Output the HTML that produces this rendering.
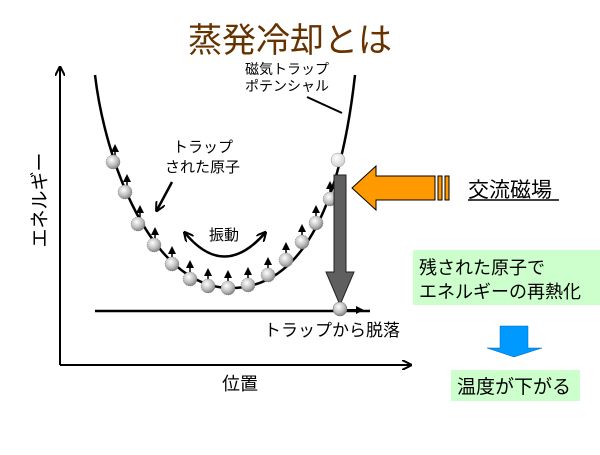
<!DOCTYPE html>
<html><head><meta charset="utf-8"><style>
body{margin:0;background:#fff}
svg text{font-family:"Liberation Sans","Noto Sans CJK JP",sans-serif}
</style></head><body>
<svg width="600" height="450" viewBox="0 0 600 450" xmlns="http://www.w3.org/2000/svg">
<defs>
<radialGradient id="g" cx="0.4" cy="0.35" r="0.7"><stop offset="0" stop-color="#fff"/><stop offset="0.6" stop-color="#bbb"/><stop offset="1" stop-color="#777"/></radialGradient>
<radialGradient id="w" cx="0.4" cy="0.35" r="0.7"><stop offset="0" stop-color="#fff"/><stop offset="1" stop-color="#ccc"/></radialGradient>
<marker id="ah" markerWidth="10" markerHeight="10" refX="8" refY="5" orient="auto-start-reverse" markerUnits="userSpaceOnUse"><path d="M0,0 L10,5 L0,10" fill="none" stroke="#000" stroke-width="2"/></marker>
<marker id="fh" markerWidth="8" markerHeight="8" refX="6" refY="4" orient="auto" markerUnits="userSpaceOnUse"><path d="M0,0 L8,4 L0,8 Z" fill="#000"/></marker>
</defs>
<text x="290" y="52" font-size="34" fill="#663300" text-anchor="middle">蒸発冷却とは</text>
<line x1="60" y1="365" x2="60" y2="68" stroke="#000" stroke-width="2" marker-end="url(#ah)"/>
<line x1="60" y1="365" x2="410" y2="365" stroke="#000" stroke-width="2" marker-end="url(#ah)"/>
<text transform="translate(46,200) rotate(-90)" font-size="19" text-anchor="middle">エネルギー</text>
<text x="240" y="390" font-size="18" text-anchor="middle">位置</text>
<path d="M95,75 C105,160 150,285 228,288 C300,290 340,210 355,75" fill="none" stroke="#000" stroke-width="2.5"/>
<line x1="95" y1="311" x2="370" y2="311" stroke="#000" stroke-width="2.5"/>
<g stroke="#000" stroke-width="1.5" marker-end="url(#fh)">
<line x1="115" y1="160" x2="115" y2="146"/><line x1="127" y1="190" x2="127" y2="176"/><line x1="140" y1="222" x2="140" y2="207"/><line x1="155" y1="243" x2="155" y2="229"/><line x1="172" y1="262" x2="172" y2="248"/><line x1="190" y1="277" x2="190" y2="262"/><line x1="208" y1="285" x2="208" y2="270"/><line x1="228" y1="287" x2="228" y2="272"/><line x1="248" y1="283" x2="248" y2="269"/><line x1="268" y1="273" x2="268" y2="259"/><line x1="286" y1="258" x2="286" y2="244"/><line x1="302" y1="240" x2="302" y2="226"/><line x1="316" y1="221" x2="316" y2="207"/><line x1="330" y1="197" x2="330" y2="183"/>
</g>
<g fill="url(#g)" stroke="#666" stroke-width="0.5" stroke-dasharray="1,1">
<circle cx="113" cy="162" r="7"/><circle cx="125" cy="192" r="7"/><circle cx="138" cy="224" r="7"/><circle cx="154" cy="245" r="7"/><circle cx="172" cy="264" r="7"/><circle cx="190" cy="279" r="7"/><circle cx="208" cy="286" r="7"/><circle cx="228" cy="288" r="7"/><circle cx="248" cy="285" r="7"/><circle cx="268" cy="275" r="7"/><circle cx="286" cy="260" r="7"/><circle cx="302" cy="242" r="7"/><circle cx="316" cy="223" r="7"/><circle cx="330" cy="199" r="7"/>
</g>
<circle cx="338" cy="160" r="7" fill="url(#w)" stroke="#999" stroke-width="0.5"/>
<path d="M334,175 L346,175 L346,272 L354,272 L340,305 L326,272 L334,272 Z" fill="#5f5f5f" stroke="#222" stroke-width="1"/>
<line x1="345" y1="310" x2="362" y2="310" stroke="#000" stroke-width="2" marker-end="url(#fh)"/>
<circle cx="340" cy="309" r="7" fill="url(#g)" stroke="#666" stroke-width="0.5"/>
<path d="M352,188 L376,166 L376,176 L435,176 L435,200 L376,200 L376,210 Z" fill="#ff9900" stroke="#000" stroke-width="1"/>
<rect x="438" y="176" width="4" height="24" fill="#ff9900" stroke="#000" stroke-width="1"/>
<rect x="445" y="176" width="4" height="24" fill="#ff9900" stroke="#000" stroke-width="1"/>
<text x="468" y="197" font-size="21">交流磁場</text>
<line x1="468" y1="200" x2="559" y2="200" stroke="#000" stroke-width="1.5"/>
<text x="245" y="74" font-size="14">磁気トラップ</text>
<text x="245" y="91" font-size="14">ポテンシャル</text>
<line x1="307" y1="97" x2="342" y2="113" stroke="#000" stroke-width="2"/>
<text x="173" y="152" font-size="15">トラップ</text>
<text x="165" y="172" font-size="15">された原子</text>
<line x1="172" y1="182" x2="157" y2="210" stroke="#000" stroke-width="2.5" marker-end="url(#ah)"/>
<text x="209" y="240" font-size="15">振動</text>
<path d="M185,233 Q224,280 265,233" fill="none" stroke="#000" stroke-width="2.5" marker-start="url(#ah)" marker-end="url(#ah)"/>
<text x="264" y="336" font-size="17">トラップから脱落</text>
<rect x="413" y="250" width="187" height="55" fill="#ccffcc"/>
<text x="419" y="274" font-size="18">残された原子で</text>
<text x="419" y="298" font-size="18">エネルギーの再熱化</text>
<path d="M500,326 L528,326 L528,348 L542,348 L514,357 L487,348 L500,348 Z" fill="#0099ff" stroke="#0066aa" stroke-width="0.5"/>
<rect x="451" y="370" width="129" height="31" fill="#ccffcc"/>
<text x="457" y="393" font-size="19">温度が下がる</text>
</svg>
</body></html>
